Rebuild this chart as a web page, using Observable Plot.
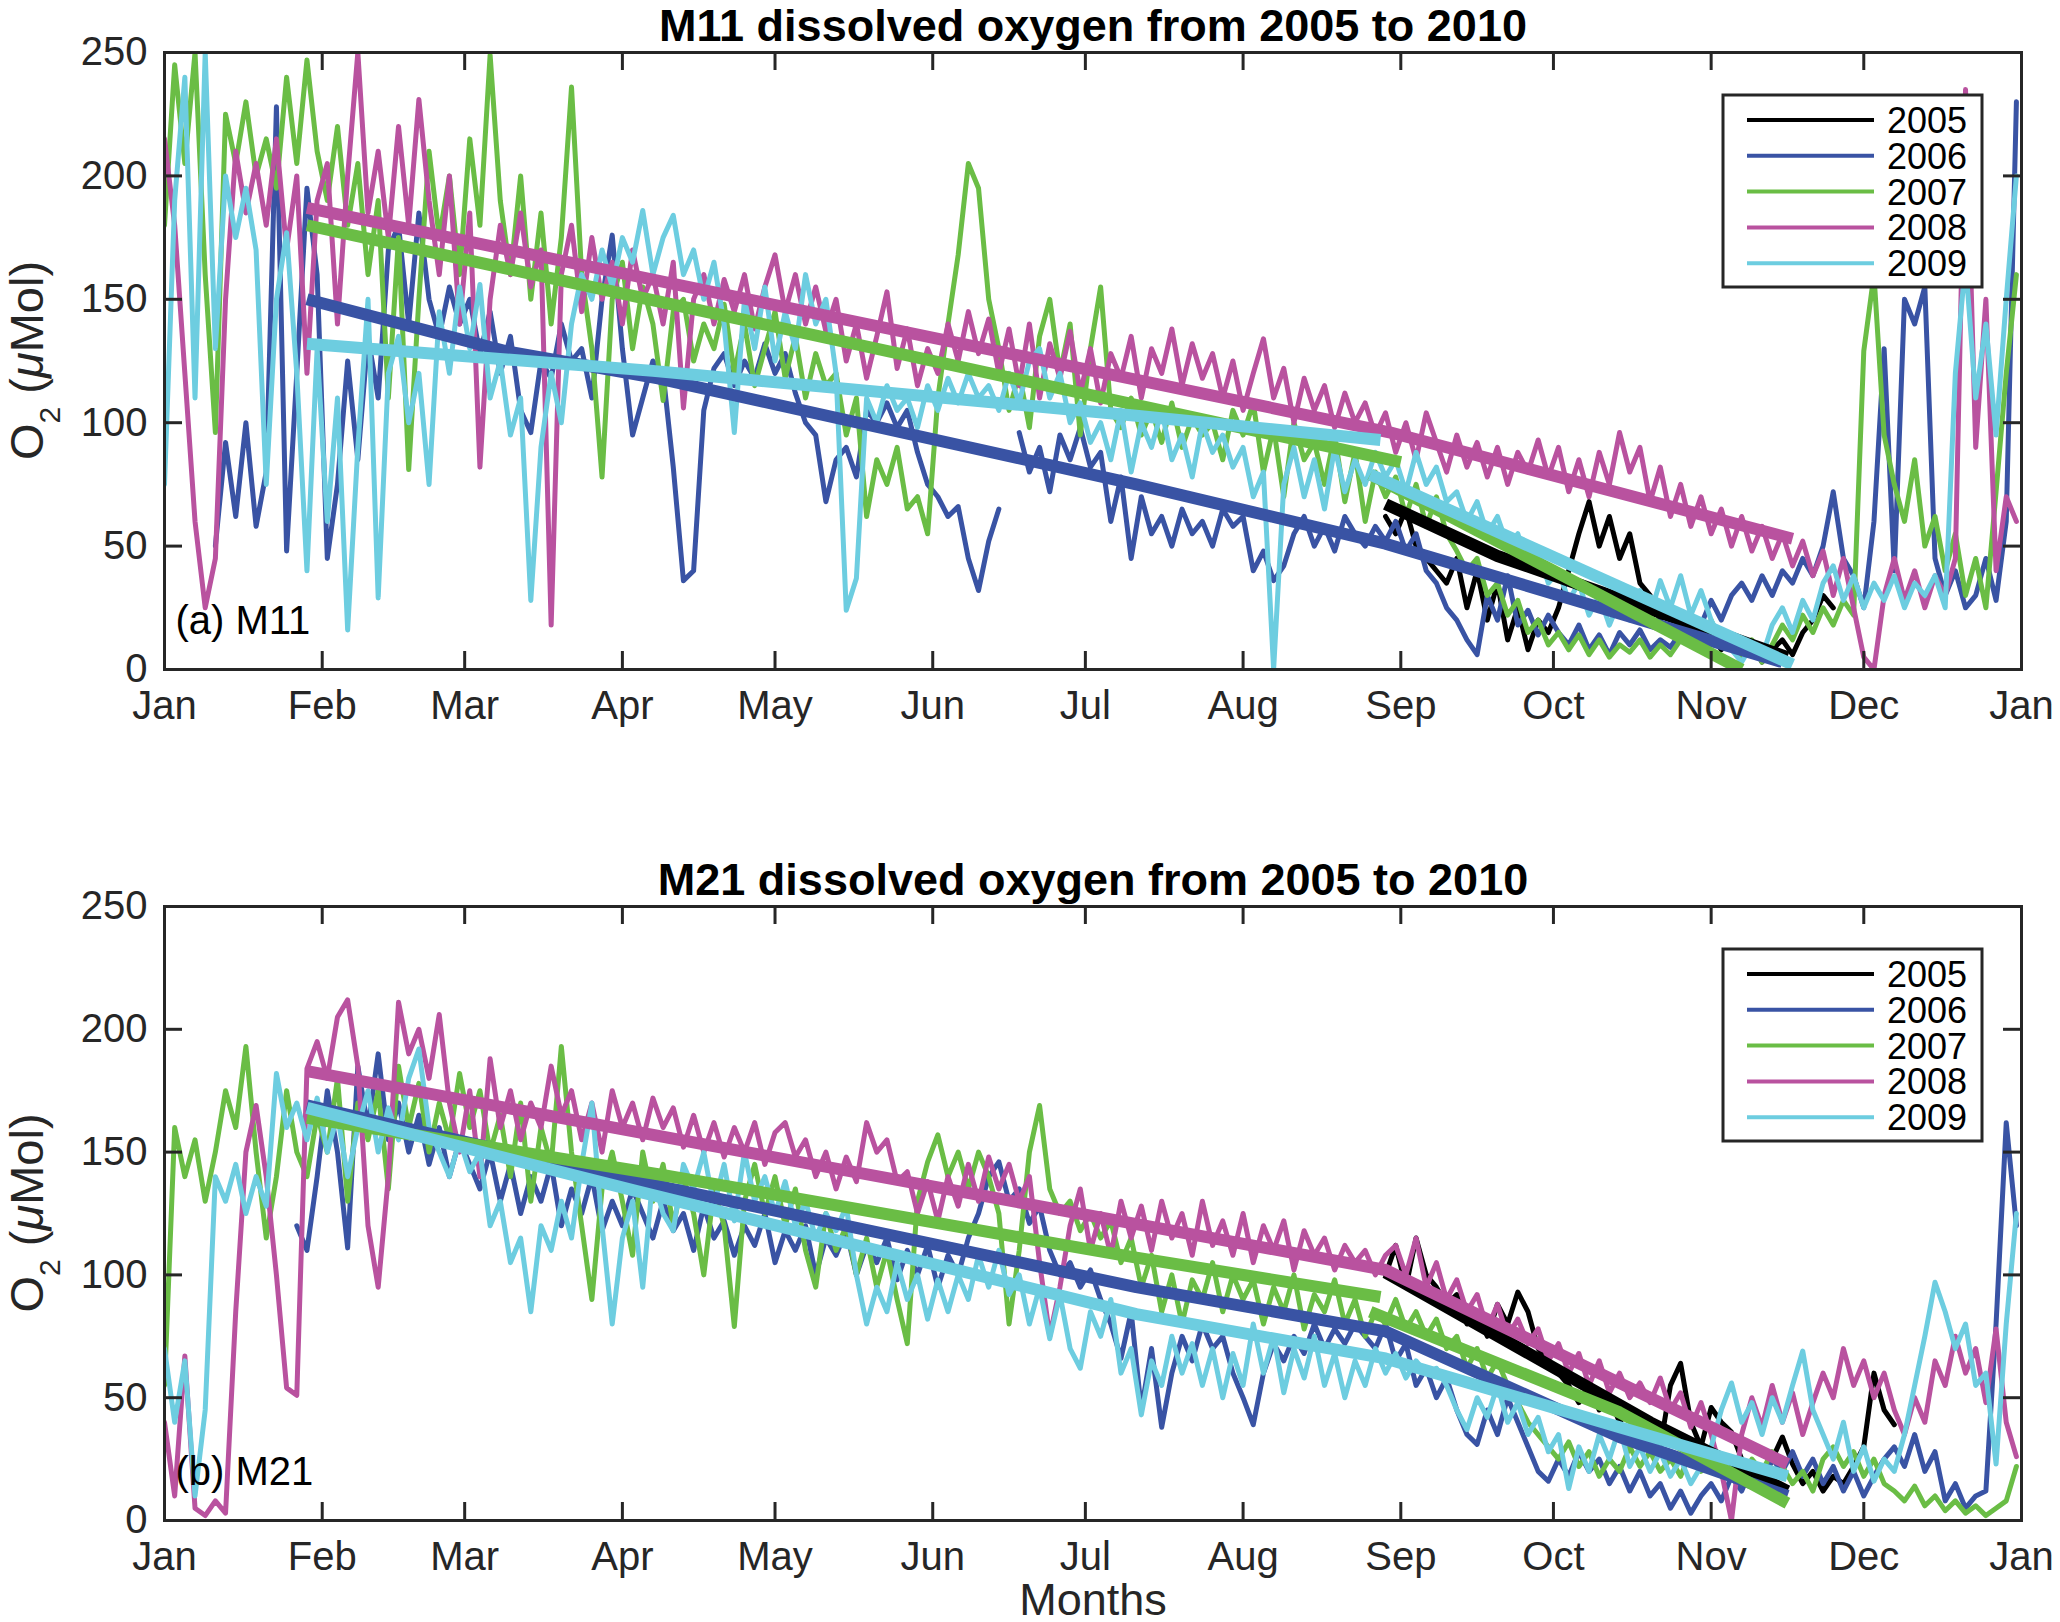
<!DOCTYPE html>
<html>
<head>
<meta charset="utf-8">
<script src="https://cdn.jsdelivr.net/npm/d3@7"></script>
<script src="https://cdn.jsdelivr.net/npm/@observablehq/plot@0.6"></script>
<style>
html, body { margin: 0; padding: 0; background: #fff; }
#chart { position: relative; width: 2060px; height: 1622px; background: #fff; }
#chart svg { position: absolute; left: 0; display: block; }
</style>
</head>
<body>
<div id="chart"></div>
<script>
// ---------- categories / ticks ----------
const years = ["2005", "2006", "2007", "2008", "2009"];
const colors = ["#000000", "#3953a4", "#6abd45", "#b9529f", "#6dcde0"];
const monthTicks = [0, 31, 59, 90, 120, 151, 181, 212, 243, 273, 304, 334, 365];
const monthLabels = ["Jan", "Feb", "Mar", "Apr", "May", "Jun", "Jul", "Aug", "Sep", "Oct", "Nov", "Dec", "Jan"];
const yTicks = [0, 50, 100, 150, 200, 250];
const step = 2; // days between samples in the noisy series

// ---------- M11 (panel a): O2 readings, every 2 days from the start day ----------
const m11_2005_start = 240;
const m11_2005 = [62,55,65,50,45,40,35,45,25,40, 20,35,12,25,8,20,15,25,40,55,
  68,50,62,45,55,35,30,20,25,15, 18,10,14,8,12,5,10,3,8,12, 6,15,20,30,25];
const m11_2006_start = 10;
const m11_2006 = [50,92,62,100,58,80,228,48,120,195, 160,45,75,125,85,135,110,170,180,140,
  185,150,135,155,140,150,128,145,120,135, 105,96,125,118,140,125,130,110,150,176,
  130,95,110,125,120,82,36,40,105,122, 128,115,125,118,132,120,128,112,100,95,
  68,85,90,78,105,100,108,98,105,88, 75,70,62,66,45,32,52,65,null,96,
  80,90,72,95,85,98,82,88,60,78, 45,70,55,62,50,65,55,60,50,65,
  58,62,40,48,36,42,55,62,50,58, 48,62,55,50,58,52,60,48,55,40,
  35,25,20,12,6,30,20,38,18,24, 14,22,15,10,18,8,14,6,15,10,
  16,8,12,9,15,22,18,28,20,30, 35,28,38,30,40,35,45,38,50,72,
  45,38,25,60,130,40,150,140,155,45, 30,40,25,30,45,28,60,230];
const m11_2007_start = 0;
const m11_2007 = [180,245,205,250,160,96,225,205,230,200, 215,195,240,205,247,210,190,220,180,205,
  160,190,110,175,81,150,210,175,200,160, 215,180,249,190,160,200,150,185,140,175,
  236,160,130,78,150,165,130,155,140,109, 145,150,125,140,130,148,120,140,115,130,
  145,118,135,110,128,115,120,95,110,62, 85,75,90,65,70,55,110,140,168,205,
  195,150,130,105,120,98,135,150,120,140, 95,130,155,105,98,110,95,105,92,108,
  90,102,95,100,85,105,95,108,80,98, 70,100,85,92,75,95,68,88,60,80,
  70,78,62,75,58,70,55,48,40,45, 30,35,22,28,15,20,10,15,8,14,
  6,12,5,10,7,12,5,10,6,12, 15,8,20,10,14,5,12,3,10,18,
  12,22,15,25,18,28,22,129,160,95, 75,60,85,50,62,40,55,30,45,25, 72,120,160];
const m11_2008_start = 0;
const m11_2008 = [215,180,120,60,25,45,150,210,185,205, 180,215,170,200,120,190,205,140,200,250,
  185,210,175,220,180,231,190,160,200,140, 185,82,150,180,160,185,155,170,18,160,
  180,145,175,150,165,140,170,150,160,140, 165,106,150,160,140,158,145,160,138,155,
  168,145,160,140,155,137,150,125,140,118, 135,153,122,138,115,130,120,140,125,145,
  128,142,120,138,115,140,110,132,118,137, 112,130,108,128,118,135,110,130,120,138,
  115,132,118,128,110,125,105,120,134,110, 122,100,118,105,115,98,112,100,108,95,
  104,88,100,85,104,92,80,95,82,92, 78,90,75,88,80,93,78,90,72,85,
  70,88,75,96,80,90,68,82,62,75, 58,70,55,65,50,62,48,58,45,55,
  42,52,38,48,30,45,25,5,0,30, 45,28,40,25,38,30,45,235,90,150, 40,70,60];
const m11_2009_start = 0;
const m11_2009 = [75,190,240,110,250,130,200,175,195,170, 75,150,177,120,40,130,60,110,16,90,
  150,29,120,135,100,120,75,145,120,155, 130,156,110,125,95,110,28,90,120,100,
  140,160,150,170,155,175,165,186,160,175, 184,160,170,150,165,140,96,150,130,155,
  125,145,130,160,140,150,120,24,37,110, 100,115,105,110,98,115,105,118,108,120,
  110,115,105,120,108,125,130,110,120,100, 108,92,100,85,105,80,100,90,105,85,
  95,78,100,88,95,82,90,70,80,0, 75,90,70,85,65,90,72,85,75,88,
  78,85,72,88,75,82,68,72,60,68, 55,62,50,55,42,48,35,40,28,35,
  22,30,18,28,20,32,22,36,25,38, 22,32,20,12,8,3,10,5,18,25,
  15,28,20,35,42,28,38,25,35,28, 38,25,35,30,38,25,120,165,110,140, 95,150,200];

// ---------- M11 fitted trend lines: [day, O2] ----------
const m11_fit_2005 = [[240,67],[262,46],[319,5]];
const m11_fit_2006 = [[28,150],[67,129],[97,118],[191,75],[240,51],[318,3]];
const m11_fit_2007a = [[28,180],[243,84]];
const m11_fit_2007b = [[237,79],[310,0]];
const m11_fit_2008 = [[28,187],[241,96],[320,53]];
const m11_fit_2009a = [[28,132],[96,121],[190,103],[239,93]];
const m11_fit_2009b = [[237,79],[320,2]];

// ---------- M21 (panel b): O2 readings, every 2 days from the start day ----------
const m21_2005_start = 240;
const m21_2005 = [100,112,95,115,100,95,88,92,80,85, 75,88,80,93,85,70,65,60,55,48,
  55,45,50,40,45,35,40,30,55,64, 40,30,46,40,36,25,20,15,25,34, 23,15,20,12,18,15,22,30,60,45, 39];
const m21_2006_start = 26;
const m21_2006 = [120,110,140,175,150,111,185,160,190,155, 170,150,165,145,160,140,155,145,135,150,
  130,145,125,140,130,145,120,135,125,140, 118,130,120,135,125,115,130,118,125,110,
  128,115,122,108,120,112,125,105,118,110, 120,100,115,108,118,100,112,105,115,98,
  110,100,112,95,108,100,115,125,140,146, 130,135,121,128,110,100,105,95,102,90,
  80,66,85,45,70,38,60,75,65,80, 70,75,60,50,39,60,72,65,75,68,
  80,70,78,72,80,75,70,80,65,72, 55,62,50,58,45,35,31,45,35,50,
  40,30,20,16,25,18,28,20,25,15, 22,12,20,10,15,5,12,3,10,15,
  8,18,12,22,15,25,20,28,18,25, 15,22,12,20,10,18,25,30,22,35,
  20,28,8,15,5,10,12,80,162,120];
const m21_2007_start = 0;
const m21_2007 = [55,160,140,155,130,150,175,160,193,150, 115,140,175,150,140,165,150,180,130,170,
  155,175,135,185,160,178,150,170,155,182, 160,175,150,165,140,170,130,160,145,193,
  150,120,90,135,150,130,108,150,130,145, 120,140,125,100,135,120,79,130,145,125,
  140,120,135,110,95,125,110,120,100,115, 95,110,90,72,130,146,157,140,150,135,
  150,140,125,80,110,150,169,135,125,130, 118,125,115,122,105,115,95,108,85,100,
  80,98,90,105,85,100,90,98,80,95, 85,100,78,92,85,98,80,90,75,85,
  80,90,78,85,75,82,70,75,62,70, 58,65,55,48,40,35,30,25,32,22,
  28,18,25,20,30,22,28,20,25,18, 28,20,25,18,22,15,25,20,28,22,
  15,20,12,25,30,22,28,18,25,15, 12,8,14,6,10,4,8,3,6,2, 5,8,22];
const m21_2008_start = 0;
const m21_2008 = [40,10,67,5,2,8,3,85,150,169, 140,100,54,51,184,195,180,205,212,185,
  120,95,140,211,190,200,180,206,170,150, 175,140,188,160,175,155,170,160,185,165,
  175,155,170,150,175,160,170,155,172,160, 168,152,165,150,162,148,160,150,162,145,
  158,162,148,155,140,150,135,148,138,162, 150,155,138,142,125,138,122,140,128,145,
  130,148,135,145,130,140,105,75,95,120, 135,110,125,108,130,115,128,110,130,115,
  125,108,130,112,122,108,125,105,120,110, 122,102,118,108,115,102,112,105,110,100,
  108,112,100,115,95,105,90,98,85,92, 78,88,75,82,72,78,65,72,60,68,
  55,65,52,60,50,56,48,58,45,52, 38,48,35,20,0,35,50,38,55,40,
  52,35,48,60,50,70,55,65,50,60, 45,35,50,40,65,55,75,60,70,48, 78,40,26];
const m21_2009_start = 0;
const m21_2009 = [70,40,65,10,45,140,130,145,125,140, 128,182,160,170,155,172,150,165,140,160,
  175,150,168,155,180,192,160,150,140,155, 142,150,120,130,105,115,85,120,110,130,
  115,145,170,120,80,115,130,95,140,125, 118,145,135,150,128,145,122,150,130,140,
  125,138,120,130,115,125,118,128,100,80, 95,85,105,90,100,82,98,85,100,90,
  108,95,110,92,100,80,95,74,92,70, 62,85,75,90,60,70,43,65,55,75,
  60,72,55,70,50,68,55,80,60,75, 52,70,58,75,55,68,50,65,55,70,
  60,68,58,65,60,62,55,45,37,50, 42,55,40,48,35,42,28,35,13,30,
  20,35,25,38,22,30,20,28,18,25, 15,22,30,45,56,40,48,35,50,40,
  55,69,45,35,25,40,20,30,16,25, 20,35,55,75,97,85,70,80,55,60, 23,80,125];

// ---------- M21 fitted trend lines: [day, O2] ----------
const m21_fit_2005 = [[240,101],[292,40],[319,12]];
const m21_fit_2006 = [[28,169],[93,138],[191,95],[240,77],[286,34],[319,10]];
const m21_fit_2007a = [[28,164],[97,141],[191,107],[239,91]];
const m21_fit_2007b = [[237,85],[286,44],[319,7]];
const m21_fit_2008 = [[28,183],[240,102],[319,23]];
const m21_fit_2009 = [[28,168],[93,134],[191,84],[240,66],[286,38],[319,18]];

// ---------- helpers ----------
const series = (start, vals) => vals.map((v, i) => ({day: start + i * step, v}));
const pts = (arr) => arr.map(([day, v]) => ({day, v}));
const FONT = "'Liberation Sans', Arial, Helvetica, sans-serif";
const INK = "#262626";
const W = 2060, ML = 164, MR = 39;

function makePanel(cfg) {
  const {title, label, noisy, fits, height, marginTop, marginBottom, xLabel} = cfg;
  const innerH = height - marginTop - marginBottom;
  const innerW = W - ML - MR;
  const marks = [];
  noisy.forEach(s => marks.push(Plot.line(s.rows, {
    x: "day", y: "v", stroke: s.color, strokeWidth: 5, strokeLinejoin: "round", clip: true
  })));
  fits.forEach(s => s.parts.forEach(p => marks.push(Plot.line(p, {
    x: "day", y: "v", stroke: s.color, strokeWidth: 12, strokeLinecap: "butt", strokeLinejoin: "round", clip: true
  }))));
  // inward ticks (box style)
  marks.push(Plot.tickX(monthTicks, {x: d => d, stroke: INK, strokeWidth: 3, insetTop: innerH - 18}));
  marks.push(Plot.tickX(monthTicks, {x: d => d, stroke: INK, strokeWidth: 3, insetBottom: innerH - 18}));
  marks.push(Plot.tickY(yTicks, {y: d => d, stroke: INK, strokeWidth: 3, insetRight: innerW - 18}));
  marks.push(Plot.tickY(yTicks, {y: d => d, stroke: INK, strokeWidth: 3, insetLeft: innerW - 18}));
  marks.push(Plot.frame({stroke: INK, strokeWidth: 3}));
  marks.push(Plot.axisX({ticks: monthTicks, tickSize: 0, tickPadding: 21, label: null,
    tickFormat: d => monthLabels[monthTicks.indexOf(d)], fontSize: 40}));
  marks.push(Plot.axisY({ticks: yTicks, tickSize: 0, tickPadding: 17, label: null,
    tickFormat: d => String(d), fontSize: 40}));
  marks.push(Plot.text([title], {frameAnchor: "top", dy: -12, lineAnchor: "bottom", text: d => d,
    fontSize: 45, fontWeight: "bold", fill: "#000"}));
  marks.push(Plot.text([label], {frameAnchor: "bottom-left", dx: 11, dy: -36, lineAnchor: "bottom",
    textAnchor: "start", text: d => d, fontSize: 40, fill: "#000"}));
  if (xLabel) marks.push(Plot.text([xLabel], {frameAnchor: "bottom", dy: 94, lineAnchor: "bottom",
    text: d => d, fontSize: 45, fill: INK}));

  const svg = Plot.plot({
    width: W, height, marginLeft: ML, marginRight: MR, marginTop, marginBottom,
    style: {fontFamily: FONT, fontSize: "40px", color: INK, background: "#fff", overflow: "visible"},
    x: {domain: [0, 365]},
    y: {domain: [0, 250]},
    marks
  });

  const s = d3.select(svg);
  // y-axis label O2 (μMol)
  const cy = marginTop + innerH / 2;
  const t = s.append("text")
    .attr("transform", `translate(43,${cy}) rotate(-90)`)
    .attr("text-anchor", "middle")
    .attr("fill", INK)
    .style("font-family", FONT)
    .style("font-size", "47px");
  t.append("tspan").text("O");
  t.append("tspan").attr("dy", 17).style("font-size", "30px").text("2");
  t.append("tspan").attr("dy", -17).text(" (");
  t.append("tspan").style("font-style", "italic").text("μ");
  t.append("tspan").text("Mol)");

  // legend
  const bx = 1723, by = marginTop + 43, bw = 259, bh = 192;
  const g = s.append("g");
  g.append("rect").attr("x", bx).attr("y", by).attr("width", bw).attr("height", bh)
    .attr("fill", "#fff").attr("stroke", INK).attr("stroke-width", 3);
  years.forEach((yr, i) => {
    const ry = by + 25 + i * 35.8;
    g.append("line").attr("x1", bx + 24).attr("x2", bx + 151).attr("y1", ry).attr("y2", ry)
      .attr("stroke", colors[i]).attr("stroke-width", 4);
    g.append("text").attr("x", bx + 164).attr("y", ry + 13).attr("fill", "#000")
      .attr("text-anchor", "start")
      .style("font-family", FONT).style("font-size", "36px").text(yr);
  });
  return svg;
}

const panelA = makePanel({
  title: "M11 dissolved oxygen from 2005 to 2010",
  label: "(a) M11",
  height: 760, marginTop: 52, marginBottom: 91, xLabel: null,
  noisy: [
    {color: colors[0], rows: series(m11_2005_start, m11_2005)},
    {color: colors[1], rows: series(m11_2006_start, m11_2006)},
    {color: colors[2], rows: series(m11_2007_start, m11_2007)},
    {color: colors[3], rows: series(m11_2008_start, m11_2008)},
    {color: colors[4], rows: series(m11_2009_start, m11_2009)}
  ],
  fits: [
    {color: colors[0], parts: [pts(m11_fit_2005)]},
    {color: colors[1], parts: [pts(m11_fit_2006)]},
    {color: colors[2], parts: [pts(m11_fit_2007a), pts(m11_fit_2007b)]},
    {color: colors[3], parts: [pts(m11_fit_2008)]},
    {color: colors[4], parts: [pts(m11_fit_2009a), pts(m11_fit_2009b)]}
  ]
});

const panelB = makePanel({
  title: "M21 dissolved oxygen from 2005 to 2010",
  label: "(b) M21",
  height: 842, marginTop: 126, marginBottom: 102, xLabel: "Months",
  noisy: [
    {color: colors[0], rows: series(m21_2005_start, m21_2005)},
    {color: colors[1], rows: series(m21_2006_start, m21_2006)},
    {color: colors[2], rows: series(m21_2007_start, m21_2007)},
    {color: colors[3], rows: series(m21_2008_start, m21_2008)},
    {color: colors[4], rows: series(m21_2009_start, m21_2009)}
  ],
  fits: [
    {color: colors[0], parts: [pts(m21_fit_2005)]},
    {color: colors[1], parts: [pts(m21_fit_2006)]},
    {color: colors[2], parts: [pts(m21_fit_2007a), pts(m21_fit_2007b)]},
    {color: colors[3], parts: [pts(m21_fit_2008)]},
    {color: colors[4], parts: [pts(m21_fit_2009)]}
  ]
});

const chart = document.getElementById("chart");
panelA.style.top = "0px";
panelB.style.top = "780px";
chart.appendChild(panelA);
chart.appendChild(panelB);
</script>
</body>
</html>
